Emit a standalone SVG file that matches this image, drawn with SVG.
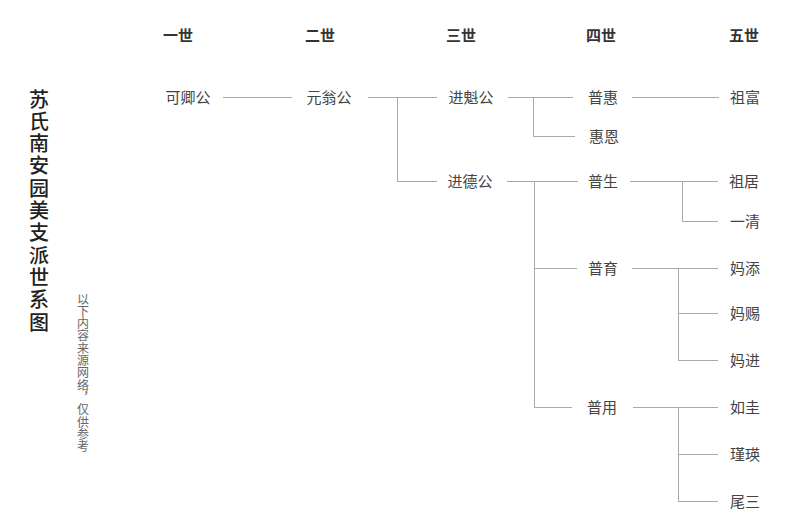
<svg xmlns="http://www.w3.org/2000/svg" width="800" height="525" viewBox="0 0 800 525">
<style>
text{font-family:"Noto Sans CJK SC","Noto Sans",sans-serif;}
.h{font-size:15px;font-weight:bold;fill:#333;text-anchor:middle;dominant-baseline:central;}
.n{font-size:15px;fill:#444;text-anchor:middle;dominant-baseline:central;}
.t{font-size:20px;font-weight:500;fill:#222;writing-mode:vertical-rl;letter-spacing:2.3px;}
.s{font-size:12px;fill:#666;writing-mode:vertical-rl;letter-spacing:0.3px;}
.c line{stroke:#aaa;stroke-width:1;}
</style>
<rect width="800" height="525" fill="#fff"/>
<g id="title"><text class="t" x="39" y="89">苏氏南安园美支派世系图</text></g>
<g id="note"><text class="s" x="83" y="293">以下内容来源网络，仅供参考</text></g>
<g id="headers">
<text class="h" x="178" y="34">一世</text>
<text class="h" x="320" y="34">二世</text>
<text class="h" x="461" y="34">三世</text>
<text class="h" x="601" y="34">四世</text>
<text class="h" x="744" y="34">五世</text>
</g>
<g id="connectors" class="c">
<line x1="223" y1="97.5" x2="292" y2="97.5"/>
<line x1="368" y1="97.5" x2="437" y2="97.5"/>
<line x1="397.5" y1="97" x2="397.5" y2="181"/>
<line x1="397" y1="181.5" x2="437" y2="181.5"/>
<line x1="508" y1="97.5" x2="573" y2="97.5"/>
<line x1="533.5" y1="97" x2="533.5" y2="136"/>
<line x1="533" y1="136.5" x2="575" y2="136.5"/>
<line x1="632" y1="97.5" x2="719" y2="97.5"/>
<line x1="507" y1="181.5" x2="578" y2="181.5"/>
<line x1="534.5" y1="181" x2="534.5" y2="407"/>
<line x1="534" y1="268.5" x2="577" y2="268.5"/>
<line x1="534" y1="407.5" x2="572" y2="407.5"/>
<line x1="630" y1="181.5" x2="718" y2="181.5"/>
<line x1="682.5" y1="181" x2="682.5" y2="221"/>
<line x1="682" y1="221.5" x2="718" y2="221.5"/>
<line x1="632" y1="268.5" x2="718" y2="268.5"/>
<line x1="678.5" y1="268" x2="678.5" y2="360"/>
<line x1="678" y1="313.5" x2="718" y2="313.5"/>
<line x1="678" y1="360.5" x2="718" y2="360.5"/>
<line x1="633" y1="407.5" x2="718" y2="407.5"/>
<line x1="678.5" y1="407" x2="678.5" y2="501"/>
<line x1="678" y1="454.5" x2="718" y2="454.5"/>
<line x1="678" y1="501.5" x2="718" y2="501.5"/>
</g>
<g id="n1"><text class="n" x="188" y="96">可卿公</text></g>
<g id="n2"><text class="n" x="329" y="96">元翁公</text></g>
<g id="n3"><text class="n" x="471" y="96">进魁公</text></g>
<g id="n4"><text class="n" x="470" y="180">进德公</text></g>
<g id="n5"><text class="n" x="603" y="96">普惠</text></g>
<g id="n6"><text class="n" x="604" y="135">惠恩</text></g>
<g id="n7"><text class="n" x="603" y="180">普生</text></g>
<g id="n8"><text class="n" x="603" y="267">普育</text></g>
<g id="n9"><text class="n" x="602" y="406">普用</text></g>
<g id="n10"><text class="n" x="745" y="96">祖富</text></g>
<g id="n11"><text class="n" x="744" y="180">祖居</text></g>
<g id="n12"><text class="n" x="745" y="220">一清</text></g>
<g id="n13"><text class="n" x="745" y="267">妈添</text></g>
<g id="n14"><text class="n" x="745" y="312">妈赐</text></g>
<g id="n15"><text class="n" x="745" y="359">妈进</text></g>
<g id="n16"><text class="n" x="745" y="406">如圭</text></g>
<g id="n17"><text class="n" x="745" y="453">瑾瑛</text></g>
<g id="n18"><text class="n" x="745" y="500">尾三</text></g>
</svg>
